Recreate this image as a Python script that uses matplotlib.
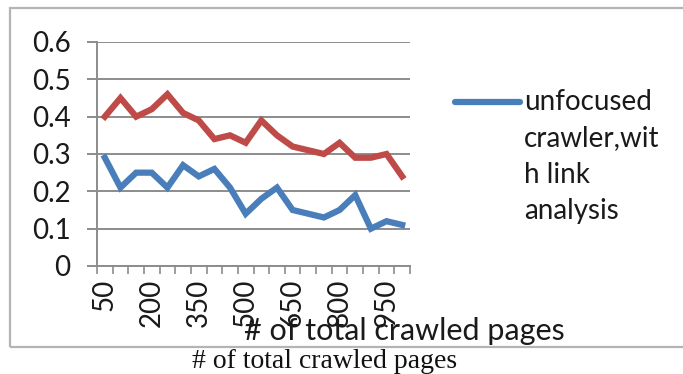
import numpy as np
import matplotlib
matplotlib.use("Agg")
import matplotlib.pyplot as plt
from matplotlib.lines import Line2D
from matplotlib.patches import Rectangle

# pages crawled (x categories) and harvest ratios for the two crawlers
pages = [50, 100, 150, 200, 250, 300, 350, 400, 450, 500,
         550, 600, 650, 700, 750, 800, 850, 900, 950, 1000]
unfocused_link = [0.29, 0.21, 0.25, 0.25, 0.21, 0.27, 0.24, 0.26, 0.21, 0.14,
                  0.18, 0.21, 0.15, 0.14, 0.13, 0.15, 0.19, 0.10, 0.12, 0.11]
other_crawler = [0.40, 0.45, 0.40, 0.42, 0.46, 0.41, 0.39, 0.34, 0.35, 0.33,
                 0.39, 0.35, 0.32, 0.31, 0.30, 0.33, 0.29, 0.29, 0.30, 0.24]
legend_label = "unfocused\ncrawler,wit\nh link\nanalysis"
yticks = [0, 0.1, 0.2, 0.3, 0.4, 0.5, 0.6]

blue = "#4a7ebb"
red = "#be4b48"
grid = "#8c8c8c"
font = "Lato"

W, H = 683, 374
fig = plt.figure(figsize=(W / 100, H / 100), dpi=100)

# outer chart frame
fig.add_artist(Rectangle((10 / W, 1 - 347 / H), 1.2, (347 - 8) / H,
                         transform=fig.transFigure, fill=False,
                         edgecolor="#b4b4b4", linewidth=1.6))

ax = fig.add_axes([97 / W, 1 - 266 / H, (410 - 97) / W, (266 - 42) / H])
x = np.arange(len(pages))
ax.plot(x, other_crawler, color=red, linewidth=4.5, solid_joinstyle="miter")
ax.plot(x, unfocused_link, color=blue, linewidth=4.5, solid_joinstyle="miter")

ax.set_xlim(-0.5, len(pages) - 0.5)
ax.set_ylim(0, 0.6)
ax.set_yticks(yticks)
ax.set_yticklabels(["0" if v == 0 else f"{v:.1f}" for v in yticks],
                   fontfamily=font, fontsize=20, color="#1a1a1a")
ax.yaxis.grid(True, color=grid, linewidth=1.4)
ax.tick_params(axis="y", length=7, width=1.4, color=grid, pad=12)

ax.set_xticks(x[::3])
ax.set_xticklabels([str(p) for p in pages[::3]], rotation=90,
                   fontfamily=font, fontsize=20, color="#1a1a1a")
ax.set_xticks(np.arange(-0.5, len(pages)), minor=True)
ax.tick_params(axis="x", which="major", length=0, pad=9)
ax.tick_params(axis="x", which="minor", length=6, width=1.2, color=grid)

for side in ["top", "right"]:
    ax.spines[side].set_visible(False)
for side in ["left", "bottom"]:
    ax.spines[side].set_color(grid)
    ax.spines[side].set_linewidth(1.4)
ax.set_axisbelow(True)

# x-axis title inside the frame, drawn over the lower tick labels
fig.text(404 / W, 1 - 331 / H, "# of total crawled pages", fontfamily=font,
         fontsize=22, ha="center", va="center", color="#1a1a1a")

# legend entry
fig.add_artist(Line2D([455 / W, 520 / W], [1 - 102 / H, 1 - 102 / H],
                      transform=fig.transFigure, color=blue, linewidth=4.5,
                      solid_capstyle="round"))
fig.text(524 / W, 1 - 89 / H, legend_label, fontfamily=font, fontsize=20,
         ha="left", va="top", linespacing=1.5, color="#1a1a1a")

# caption below the frame
fig.text(325 / W, 1 - 361 / H, "# of total crawled pages",
         fontfamily="Liberation Serif", fontsize=20, ha="center", va="center",
         color="#111111")

fig.savefig("out.png", dpi=100)
